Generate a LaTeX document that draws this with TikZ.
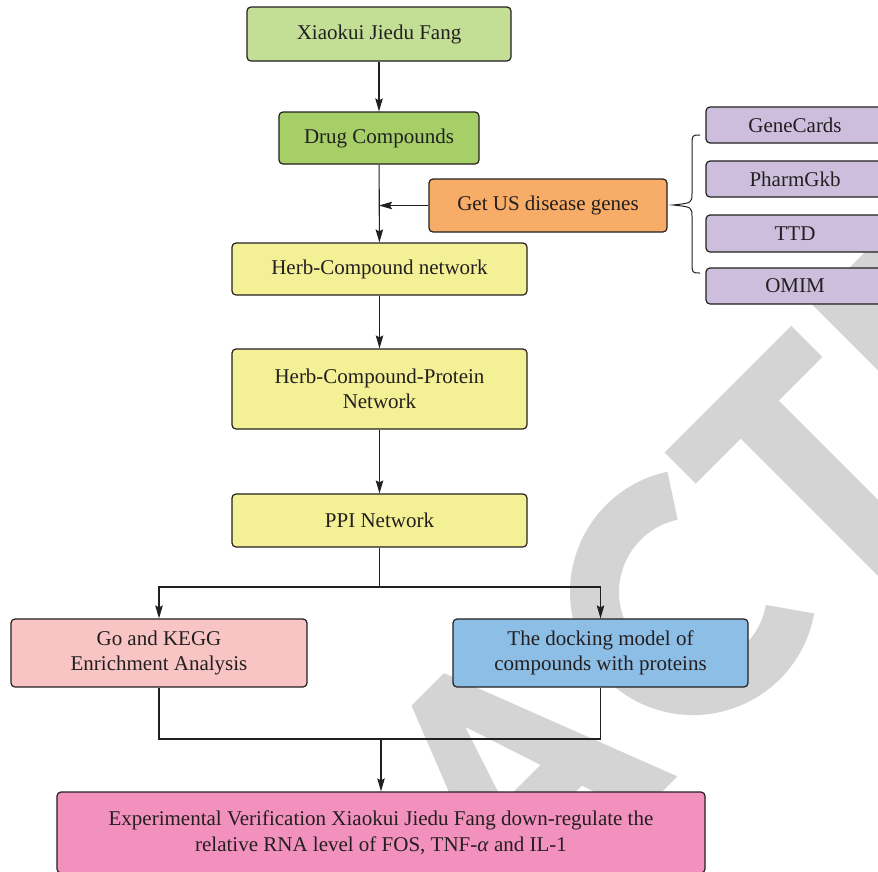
\documentclass[tikz,border=0pt]{standalone}
\usepackage{fontspec}
\setmainfont{Liberation Serif}
\usetikzlibrary{arrows.meta}
\definecolor{ink}{HTML}{231F20}
\definecolor{wmgray}{RGB}{212,212,212}
\definecolor{cXJF}{HTML}{C3DF96}
\definecolor{cDrug}{HTML}{A6CF68}
\definecolor{cGet}{HTML}{F7AC67}
\definecolor{cPur}{HTML}{CDBEDD}
\definecolor{cYel}{HTML}{F4F096}
\definecolor{cGo}{HTML}{F8C4C4}
\definecolor{cDock}{HTML}{8DBEE6}
\definecolor{cExp}{HTML}{F291BD}
\begin{document}
\begin{tikzpicture}[x=1pt,y=-1pt,
  box/.style={draw=ink, line width=1.2pt, rounded corners=4pt, inner sep=0pt,
    align=center, text=ink, font=\fontsize{21}{25.5}\selectfont},
  conn/.style={draw=ink, line width=1.1pt},
  arr/.style={conn, -{Stealth[length=13pt,width=7.5pt,inset=2pt]}},
  wm/.style={fill=wmgray, draw=none}]
\useasboundingbox (0,0) rectangle (878,871);
\clip (0,0) rectangle (878,871);
% watermark letters (A C T E), rotated 45 degrees
\begin{scope}[shift={(726.9,726.9)}, rotate=45, y=1pt]
  \path[wm, even odd rule] (-302,0) -- (-208,238) -- (-162,238) -- (-70,0) -- (-124,0)
     -- (-144,61) -- (-226,61) -- (-246,0) -- cycle
     (-185,185) -- (-158.7,105) -- (-211.3,105) -- cycle;
  \path[wm] (71.4,119.3) ++(57:123) arc[start angle=57, end angle=305, radius=123]
     -- ++(305:-49) arc[start angle=305, end angle=57, radius=74] -- cycle;
  \path[wm] (150,238) -- (329,238) -- (329,194) -- (267.3,194) -- (267.3,0)
     -- (213.6,0) -- (213.6,194) -- (150,194) -- cycle;
  \path[wm] (359,0) -- (359,238) -- (552,238) -- (552,194) -- (407,194) -- (407,141)
     -- (530,141) -- (530,100) -- (407,100) -- (407,44) -- (560,44) -- (560,0) -- cycle;
\end{scope}
% nodes
\node[box, fill=cXJF, minimum width=264pt, minimum height=54pt] (xjf) at (379,34) {Xiaokui Jiedu Fang};
\node[box, fill=cDrug, minimum width=200pt, minimum height=52pt] (drug) at (379,138) {Drug Compounds};
\node[box, fill=cGet, minimum width=238pt, minimum height=53pt] (getus) at (548,205.5) {Get US disease genes};
\node[box, fill=cYel, minimum width=295pt, minimum height=52pt] (herb1) at (379.5,269) {Herb-Compound network};
\node[box, fill=cYel, minimum width=295pt, minimum height=80pt] (herb2) at (379.5,389) {Herb-Compound-Protein\\Network};
\node[box, fill=cYel, minimum width=295pt, minimum height=53pt] (ppi) at (379.5,520.5) {PPI Network};
\node[box, fill=cGo, minimum width=296pt, minimum height=68pt] (go) at (159,653) {Go and KEGG\\Enrichment Analysis};
\node[box, fill=cDock, minimum width=295pt, minimum height=68pt] (dock) at (600.5,653) {The docking model of\\compounds with proteins};
\node[box, fill=cExp, minimum width=648pt, minimum height=81pt] (exp) at (381,832.5) {Experimental Verification Xiaokui Jiedu Fang down-regulate the\\relative RNA level of FOS, TNF-\textit{α} and IL-1};
\node[box, fill=cPur, minimum width=178pt, minimum height=36pt] (gc) at (795,125) {GeneCards};
\node[box, fill=cPur, minimum width=178pt, minimum height=36pt] (pg) at (795,179) {PharmGkb};
\node[box, fill=cPur, minimum width=178pt, minimum height=37pt] (ttd) at (795,233.5) {TTD};
\node[box, fill=cPur, minimum width=178pt, minimum height=36pt] (omim) at (795,286) {OMIM};
% connectors
\draw[arr] (xjf) -- (drug);
\draw[arr] (drug) -- (herb1);
\draw[arr] (getus.west) -- (drug.south |- getus.west);
\draw[arr] (herb1) -- (herb2);
\draw[arr] (herb2) -- (ppi);
\coordinate (split) at (379.5,587);
\draw[arr] (ppi.south) -- (split) -| (go.north);
\draw[arr] (ppi.south) -- (split) -| (dock.north);
\coordinate (join) at (381,739);
\draw[conn] (go.south) -- (go.south |- join) -- (dock.south |- join) -- (dock.south);
\draw[arr] (join) -- (exp.north);
% brace
\coordinate (bt) at (700,135);
\coordinate (bb) at (700,273);
\coordinate (btip) at (673,205);
\draw[conn, line width=1pt] (bt) .. controls (692,135) .. (692,146) -- (692,193)
   .. controls (692,203) .. (btip) .. controls (692,207) .. (692,217) -- (692,262)
   .. controls (692,273) .. (bb);
\end{tikzpicture}
\end{document}
